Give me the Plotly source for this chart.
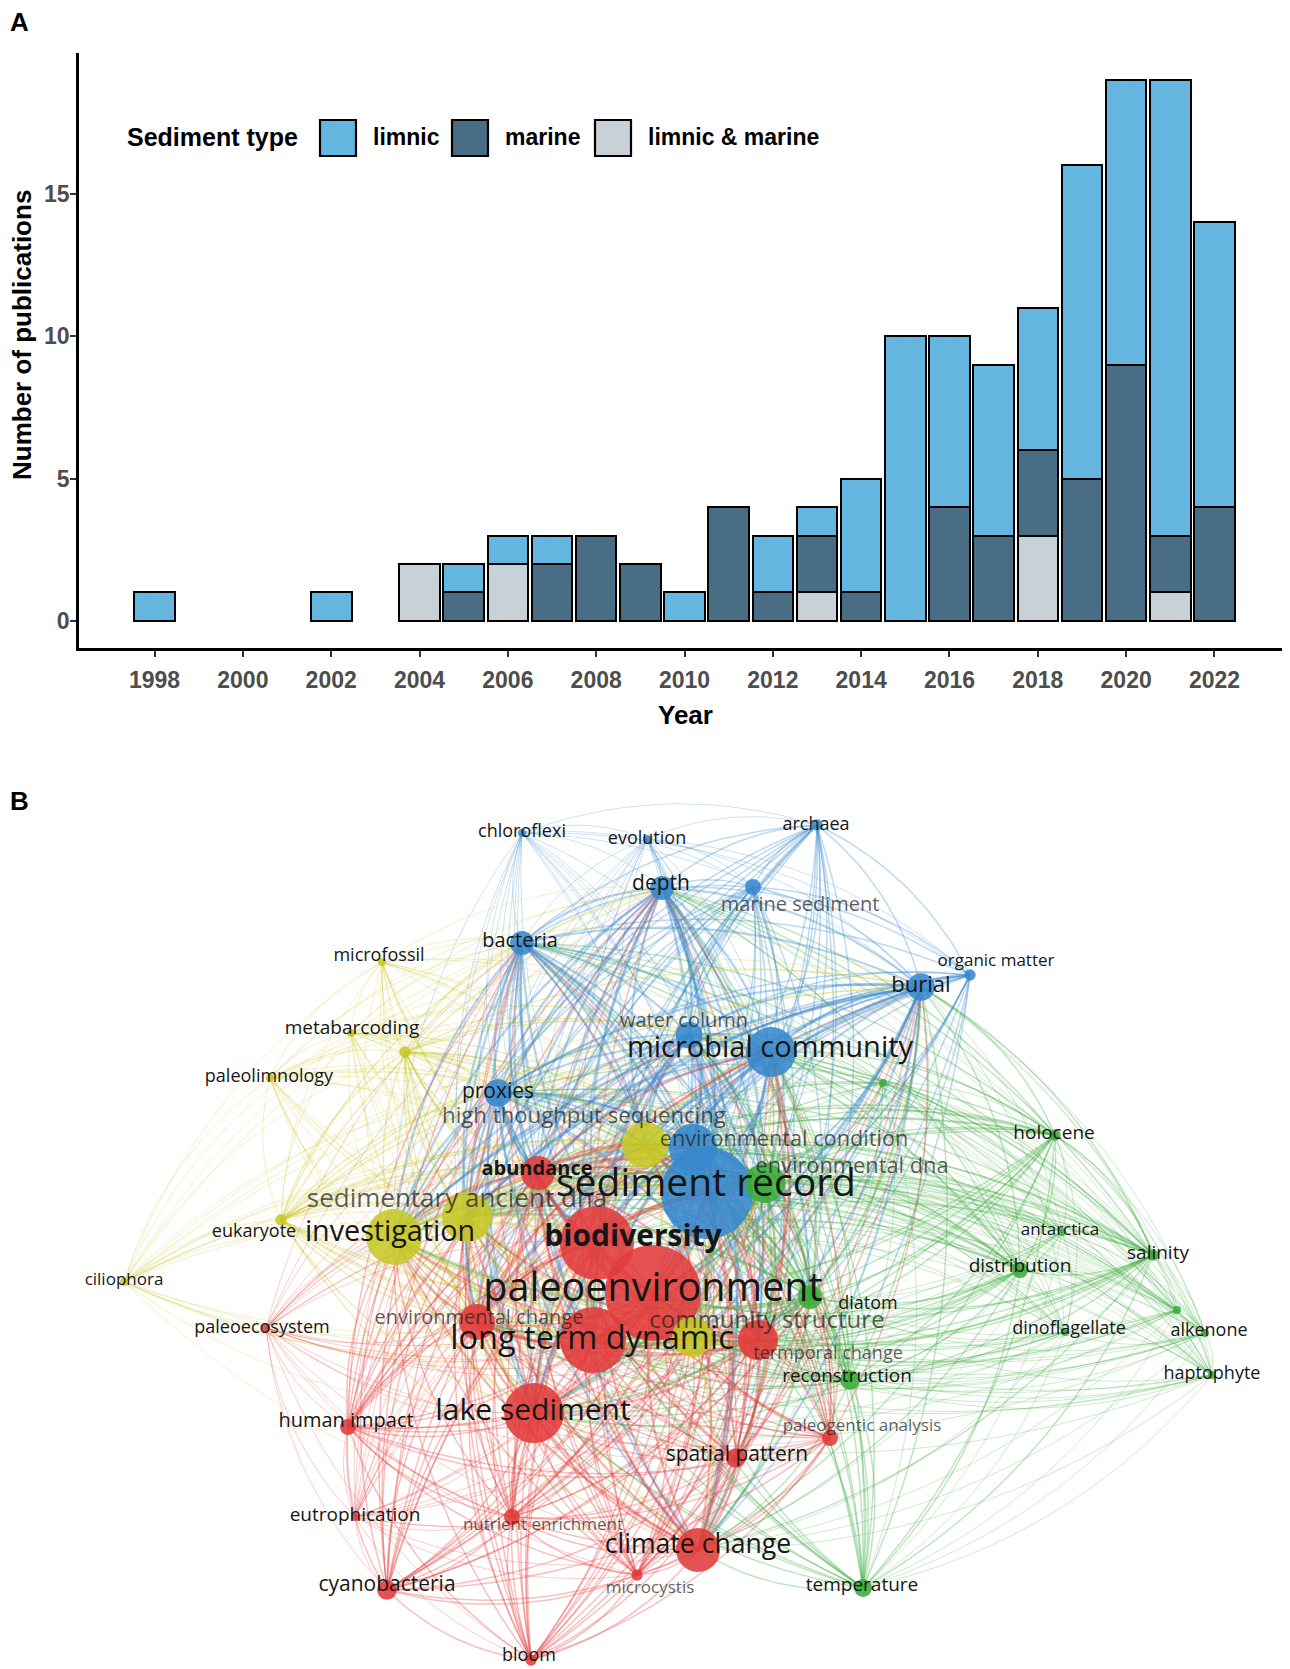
import numpy as np
import plotly.graph_objects as go

W, H = 1290, 1669
OFF = 8  # the page body keeps an 8 px margin, so the figure is drawn that much smaller

# ---------------- panel A : publications per year ----------------
years = [1998, 2002, 2004, 2005, 2006, 2007, 2008, 2009, 2010, 2011, 2012,
         2013, 2014, 2015, 2016, 2017, 2018, 2019, 2020, 2021, 2022]
limnic = [1, 1, 0, 1, 1, 1, 0, 0, 1, 0, 2, 1, 4, 10, 6, 6, 5, 11, 10, 16, 10]
marine = [0, 0, 0, 1, 0, 2, 3, 2, 0, 4, 1, 2, 1, 0, 4, 3, 3, 5, 9, 2, 4]
limnic_marine = [0, 0, 2, 0, 2, 0, 0, 0, 0, 0, 0, 1, 0, 0, 0, 0, 3, 0, 0, 1, 0]
year_ticks = list(range(1998, 2023, 2))
count_ticks = [0, 5, 10, 15]

sediment_types = ['limnic', 'marine', 'limnic & marine']
type_colors = {'limnic': '#64b6e0', 'marine': '#486d85', 'limnic & marine': '#c8d0d8'}

# ---------------- panel B : keyword co-occurrence map ----------------
keywords = ['chloroflexi', 'evolution', 'archaea', 'depth', 'marine sediment', 'bacteria',
            'organic matter', 'burial', 'water column', 'microbial community', 'proxies',
            'environmental condition', 'sediment record',
            '', 'holocene', 'environmental dna', 'antarctica', 'salinity', 'distribution',
            'diatom', '', 'dinoflagellate', 'alkenone', 'haptophyte', 'reconstruction',
            'temperature',
            'microfossil', 'metabarcoding', '', 'paleolimnology', 'high thoughput sequencing',
            'sedimentary ancient dna', 'investigation', 'eukaryote', 'ciliophora',
            'community structure',
            'abundance', 'biodiversity', 'paleoenvironment', 'environmental change',
            'long term dynamic', 'termporal change', 'paleoecosystem', 'human impact',
            'lake sediment', 'paleogentic analysis', 'spatial pattern', 'eutrophication',
            'nutrient enrichment', 'climate change', 'microcystis', 'cyanobacteria', 'bloom']
cluster = ['blue'] * 13 + ['green'] * 13 + ['yellow'] * 10 + ['red'] * 17
# map coordinates
node_x = [522, 647, 817, 662, 753, 522, 970, 921, 689, 771, 498, 693, 707,
          883, 1055, 765, 1062, 1153, 1020, 810, 1177, 1065, 1205, 1212, 850, 863,
          382, 351, 405, 270, 645, 467, 394, 281, 124, 692,
          538, 597, 653, 477, 593, 758, 266, 348, 534, 830, 736, 355, 512, 698, 637, 387, 531]
node_y = [833, 839, 825, 888, 887, 943, 975, 987, 1035, 1052, 1093, 1148, 1193,
          1083, 1135, 1183, 1232, 1255, 1270, 1297, 1310, 1332, 1333, 1375, 1380, 1588,
          962, 1033, 1052, 1078, 1145, 1217, 1237, 1220, 1282, 1337,
          1173, 1243, 1293, 1322, 1340, 1340, 1328, 1427, 1413, 1438, 1458, 1517, 1517,
          1550, 1575, 1590, 1660]
occurrences = [1, 1, 2, 9, 4, 9, 2, 12, 11, 39, 12, 36, 132,
               1, 2, 25, 1, 2, 4, 9, 1, 1, 1, 1, 6, 5,
               1, 1, 2, 1, 33, 39, 49, 2, 1, 25,
               18, 86, 144, 20, 68, 25, 1, 4, 56, 4, 6, 1, 4, 30, 2, 6, 2]

# label placement / style (layout, not data)
label_x = [522, 647, 816, 661, 800, 520, 996, 921, 684, 770, 498, 784, 706,
           0, 1054, 852, 1060, 1158, 1020, 868, 0, 1069, 1209, 1212, 847, 862,
           379, 352, 0, 269, 584, 457, 390, 254, 124, 767,
           537, 633, 653, 479, 592, 828, 262, 346, 533, 862, 737, 355, 543, 698, 650, 387, 529]
label_y = [832, 839, 825, 885, 906, 942, 962, 986, 1022, 1050, 1093, 1141, 1186,
           0, 1134, 1168, 1231, 1254, 1267, 1304, 0, 1329, 1331, 1374, 1377, 1586,
           956, 1029, 0, 1077, 1117, 1200, 1234, 1232, 1281, 1322,
           1170, 1238, 1291, 1319, 1341, 1354, 1328, 1422, 1412, 1427, 1456, 1516, 1526,
           1546, 1589, 1586, 1656]
label_size = [18, 18, 18, 21, 20, 20, 17, 22, 20, 29, 21, 21.7, 39,
              0, 19, 21.8, 17, 19, 19, 18, 0, 18, 18, 18, 19, 19,
              18, 19, 0, 18, 22.2, 26, 28.7, 18, 17, 24,
              20, 30, 39.5, 20, 32.5, 18, 18, 20, 30, 17, 21, 19, 17, 26.6, 17, 21, 18]
faded = {'marine sediment', 'water column', 'environmental condition', 'environmental dna',
         'high thoughput sequencing', 'sedimentary ancient dna', 'community structure',
         'environmental change', 'termporal change', 'paleogentic analysis',
         'nutrient enrichment', 'microcystis'}
bold = {'abundance', 'biodiversity'}
cluster_colors = {'red': (226, 58, 58), 'green': (58, 172, 58),
                  'blue': (55, 136, 206), 'yellow': (198, 200, 38)}

FW, FH = W - OFF, H - OFF


def px(x):
    return (x - OFF) / FW


def py(y):
    return 1 - (y - OFF) / FH


fig = go.Figure()

# stacked bars: first trace is the bottom of the stack
for name, vals in [('limnic & marine', limnic_marine), ('marine', marine), ('limnic', limnic)]:
    fig.add_trace(go.Bar(
        x=years, y=[v if v else None for v in vals], name=name, width=0.92,
        marker=dict(color=type_colors[name], line=dict(color='black', width=2.2)),
        xaxis='x', yaxis='y', showlegend=False,
    ))

# network links: curved, coloured by the smaller node, grouped so overlaps build up
centre = np.array([650.0, 1260.0])
t = np.linspace(0, 1, 18)[:, None]
groups = {}
n = len(node_x)
for i in range(n):
    for j in range(i + 1, n):
        if cluster[i] != cluster[j] and max(occurrences[i], occurrences[j]) < 9:
            continue
        owner = i if occurrences[i] <= occurrences[j] else j
        wmin = min(occurrences[i], occurrences[j])
        level = 0 if wmin <= 1 else (1 if wmin <= 6 else 2)
        p0 = np.array([node_x[i], node_y[i]], float)
        p2 = np.array([node_x[j], node_y[j]], float)
        mid = (p0 + p2) / 2
        d = p2 - p0
        normal = np.array([-d[1], d[0]])
        if np.dot(normal, mid - centre) < 0:
            normal = -normal
        ctrl = mid + 0.17 * normal
        pts = (1 - t) ** 2 * p0 + 2 * (1 - t) * t * ctrl + t ** 2 * p2
        gx, gy = groups.setdefault((owner, level), ([], []))
        gx.extend(pts[:, 0].tolist() + [None])
        gy.extend(pts[:, 1].tolist() + [None])

link_style = {0: (0.25, 1.0), 1: (0.32, 1.5), 2: (0.36, 2.3)}
for (owner, level), (gx, gy) in groups.items():
    r, g, b = cluster_colors[cluster[owner]]
    alpha, lw = link_style[level]
    fig.add_trace(go.Scatter(
        x=gx, y=gy, mode='lines', xaxis='x2', yaxis='y2', hoverinfo='skip',
        line=dict(color=f'rgba({r},{g},{b},{alpha})', width=lw), showlegend=False,
    ))

# nodes, largest first so small ones stay visible
order = sorted(range(n), key=lambda k: -occurrences[k])
fig.add_trace(go.Scatter(
    x=[node_x[k] for k in order], y=[node_y[k] for k in order], mode='markers',
    xaxis='x2', yaxis='y2', showlegend=False, text=[keywords[k] for k in order],
    marker=dict(size=[8 * np.sqrt(occurrences[k]) for k in order],
                color=['rgb(%d,%d,%d)' % cluster_colors[cluster[k]] for k in order],
                opacity=0.88, line=dict(width=0)),
))

for style, colour, weight in [('normal', '#161616', 'normal'),
                              ('faded', 'rgba(30,30,30,0.72)', 'normal'),
                              ('bold', '#161616', 'bold')]:
    idx = [k for k in range(n) if keywords[k] and
           (('bold' if keywords[k] in bold else 'faded' if keywords[k] in faded else 'normal') == style)]
    fig.add_trace(go.Scatter(
        x=[label_x[k] for k in idx], y=[label_y[k] for k in idx], mode='text',
        text=[keywords[k] for k in idx], textposition='middle center',
        textfont=dict(family='Open Sans', size=[label_size[k] for k in idx],
                      color=colour, weight=weight),
        xaxis='x2', yaxis='y2', showlegend=False, hoverinfo='skip', cliponaxis=False,
    ))

axis_font = dict(family='Liberation Sans', size=23, color='#4d4d4d', weight='bold')
title_font = dict(family='Liberation Sans', size=26, color='black', weight='bold')


def note(text, x, y, font, xanchor='center', angle=0):
    return dict(text=text, x=px(x), y=py(y), xref='paper', yref='paper', xanchor=xanchor,
                yanchor='middle', textangle=angle, showarrow=False, font=font)


panel_font = dict(family='Liberation Sans', size=26, color='black', weight='bold')
annotations = [
    note('A', OFF, 22, panel_font, 'left'),
    note('B', OFF, 801, panel_font, 'left'),
    note('Number of publications', 22, 335, dict(title_font, size=26), angle=-90),
    note('Year', 685, 715, title_font),
    note('Sediment type', 125, 137,
         dict(family='Liberation Sans', size=25, color='black', weight='bold'), 'left'),
]
shapes = []
key_left = [320, 452, 595]
for name, left in zip(sediment_types, key_left):
    shapes.append(dict(type='rect', xref='paper', yref='paper', x0=px(left), x1=px(left + 36),
                       y0=py(156), y1=py(120), fillcolor=type_colors[name],
                       line=dict(color='black', width=2.2)))
    annotations.append(note(name, left + 51, 137,
                            dict(family='Liberation Sans', size=23, color='black',
                                 weight='bold'), 'left'))

fig.update_layout(
    width=FW, height=FH, margin=dict(l=0, r=0, t=0, b=0),
    paper_bgcolor='white', plot_bgcolor='white', barmode='stack', bargap=0,
    xaxis=dict(domain=[px(79), 1], range=[1996.29, 2023.71], tickvals=year_ticks,
               ticks='outside', ticklen=6, tickwidth=2, tickcolor='#333333',
               showline=True, linecolor='black', linewidth=2.5, showgrid=False,
               zeroline=False, tickfont=axis_font, anchor='y', ticklabelstandoff=4),
    yaxis=dict(domain=[py(648), py(53)], range=[-0.95, 19.95], tickvals=count_ticks,
               ticks='outside', ticklen=6, tickwidth=2, tickcolor='#333333',
               showline=True, linecolor='black', linewidth=2.5, showgrid=False,
               zeroline=False, tickfont=axis_font, anchor='x', ticklabelstandoff=-4),
    xaxis2=dict(domain=[0, 1], range=[OFF, W], visible=False, anchor='y2'),
    yaxis2=dict(domain=[0, py(785)], range=[H, 785], visible=False, anchor='x2'),
    annotations=annotations, shapes=shapes,
)

fig.write_html('out.html')
